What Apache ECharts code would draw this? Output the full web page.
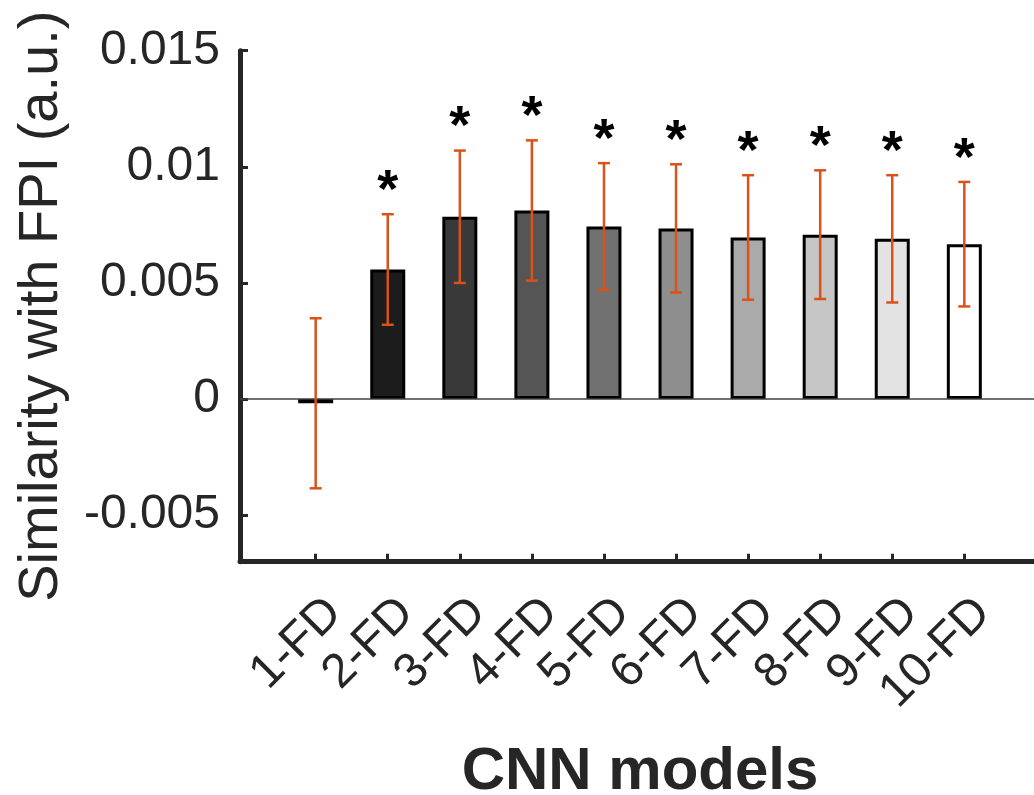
<!DOCTYPE html>
<html>
<head>
<meta charset="utf-8">
<script src="https://cdn.jsdelivr.net/npm/echarts@6/dist/echarts.min.js"></script>
<style>
  html, body { margin: 0; padding: 0; background: #ffffff; }
  #chart { width: 1034px; height: 795px; }
</style>
</head>
<body>
<div id="chart"></div>
<script>
// Model names, mean similarity and error half-widths
const categories = ['1-FD', '2-FD', '3-FD', '4-FD', '5-FD', '6-FD', '7-FD', '8-FD', '9-FD', '10-FD'];
const means = [-0.00018, 0.00558, 0.00785, 0.00812, 0.00743, 0.00735, 0.00696, 0.00708, 0.00690, 0.00667];
const errors = [0.00366, 0.00238, 0.00285, 0.00302, 0.00273, 0.00276, 0.00268, 0.00277, 0.00274, 0.00268];
const significant = [false, true, true, true, true, true, true, true, true, true];
const yTicks = [-0.005, 0, 0.005, 0.01, 0.015];
const yTickLabels = ['-0.005', '0', '0.005', '0.01', '0.015'];

const FONT = "'Liberation Sans', Arial, sans-serif";
const INK = '#262626';
const ERR = '#D95319';

const positions = categories.map((c, i) => i + 1);
// grey ramp from black to white across the models
const grays = categories.map((c, i) => {
  const v = Math.round(i / (categories.length - 1) * 255);
  return 'rgb(' + v + ',' + v + ',' + v + ')';
});

// x extent of the plot; the label axis is the same scale nudged so that
// each slanted label ends a little to the right of its tick
const X_MIN = -0.05;
const X_MAX = 11.05;
const LABEL_SHIFT = 0.26;

const chart = echarts.init(document.getElementById('chart'), null, { renderer: 'canvas' });

const option = {
  animation: false,
  backgroundColor: '#ffffff',
  grid: { left: 240, top: 50.7, width: 800, height: 511, containLabel: false, outerBoundsMode: 'none' },
  xAxis: [
    {
      type: 'value',
      min: X_MIN,
      max: X_MAX,
      axisLine: { show: true, onZero: false, lineStyle: { color: INK, width: 5 } },
      axisTick: { show: true, inside: true, length: 8, customValues: positions, lineStyle: { color: INK, width: 3 } },
      axisLabel: { show: false },
      splitLine: { show: false },
      name: 'CNN models',
      nameLocation: 'middle',
      nameGap: 181,
      nameTextStyle: { fontSize: 60, fontWeight: 'bold', color: INK, fontFamily: FONT }
    },
    {
      type: 'value',
      position: 'bottom',
      min: X_MIN - LABEL_SHIFT,
      max: X_MAX - LABEL_SHIFT,
      axisLine: { show: false, onZero: false },
      axisTick: { show: false },
      axisLabel: {
        show: true,
        customValues: positions,
        rotate: 45,
        margin: 44,
        formatter: v => categories[Math.round(v) - 1] || '',
        fontSize: 48,
        color: INK,
        fontFamily: FONT
      },
      splitLine: { show: false }
    }
  ],
  yAxis: {
    type: 'value',
    min: -0.007,
    max: 0.015,
    axisLine: { show: true, onZero: false, lineStyle: { color: INK, width: 5 } },
    axisTick: { show: true, inside: true, length: 8, customValues: yTicks, lineStyle: { color: INK, width: 3 } },
    axisLabel: {
      show: true,
      customValues: yTicks,
      margin: 20,
      formatter: v => {
        const k = yTicks.findIndex(t => Math.abs(t - v) < 1e-9);
        return k >= 0 ? yTickLabels[k] : '';
      },
      fontSize: 48,
      color: INK,
      fontFamily: FONT
    },
    splitLine: { show: false },
    name: 'Similarity with FPI (a.u.)',
    nameLocation: 'middle',
    nameRotate: 90,
    nameGap: 170,
    nameTextStyle: { fontSize: 56, color: INK, fontFamily: FONT }
  },
  series: [
    {
      type: 'bar',
      xAxisIndex: 0,
      barWidth: 35,
      data: positions.map((x, i) => ({ value: [x, means[i]], itemStyle: { color: grays[i] } })),
      itemStyle: { borderColor: '#000000', borderWidth: 3 },
      markLine: {
        silent: true,
        symbol: 'none',
        label: { show: false },
        lineStyle: { color: '#404040', width: 1.5, type: 'solid' },
        data: [{ yAxis: 0 }]
      },
      z: 2
    },
    {
      type: 'custom',
      xAxisIndex: 0,
      data: positions.map((x, i) => [x, means[i] - errors[i], means[i] + errors[i], i]),
      encode: { x: 0, y: [1, 2] },
      renderItem: (params, api) => {
        const x = api.value(0);
        const lo = api.coord([x, api.value(1)]);
        const hi = api.coord([x, api.value(2)]);
        const i = api.value(3);
        const cap = 6;
        const style = { stroke: ERR, lineWidth: 2.5 };
        const children = [
          { type: 'line', shape: { x1: lo[0], y1: lo[1], x2: hi[0], y2: hi[1] }, style: style },
          { type: 'line', shape: { x1: lo[0] - cap, y1: lo[1], x2: lo[0] + cap, y2: lo[1] }, style: style },
          { type: 'line', shape: { x1: hi[0] - cap, y1: hi[1], x2: hi[0] + cap, y2: hi[1] }, style: style }
        ];
        if (significant[i]) {
          children.push({
            type: 'text',
            x: hi[0],
            y: hi[1] - 22,
            style: { text: '*', fontSize: 54, fontWeight: 'bold', fontFamily: FONT, fill: '#000000', align: 'center', verticalAlign: 'middle' }
          });
        }
        return { type: 'group', children: children };
      },
      z: 10
    }
  ]
};

chart.setOption(option);
</script>
</body>
</html>
